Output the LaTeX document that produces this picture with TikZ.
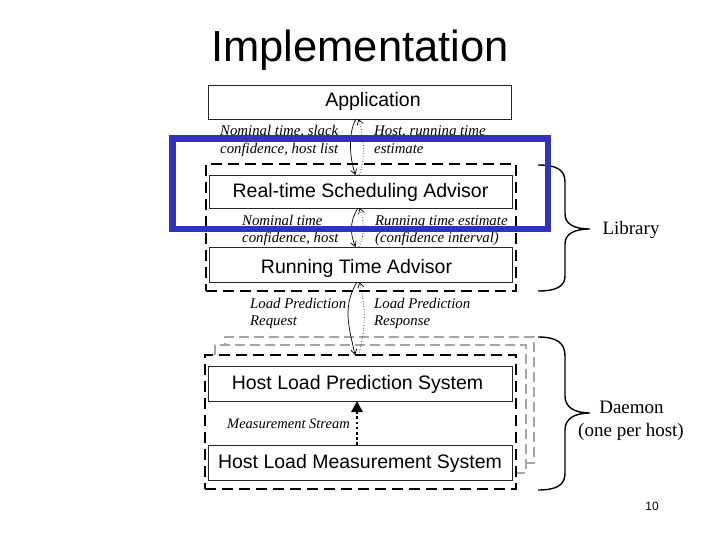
\documentclass[tikz,border=0pt]{standalone}
\usepackage{fontspec}
\setmainfont{Liberation Serif}
\setsansfont{Liberation Sans}
\usetikzlibrary{arrows.meta}
\definecolor{hiblue}{RGB}{50,50,190}
\begin{document}
\begin{tikzpicture}[x=1pt,y=-1pt,
  box/.style={draw=black!85,line width=0.8pt,inner sep=0pt,outer sep=0pt},
  boxtxt/.style={font=\sffamily\fontsize{19.5}{22}\selectfont,anchor=base,inner sep=0pt},
  lbl/.style={font=\itshape\fontsize{14.8}{16}\selectfont,anchor=base west,inner sep=0pt},
  brtxt/.style={font=\fontsize{19}{22}\selectfont,anchor=base,inner sep=0pt},
  blkdash/.style={draw=black,fill=white,dash pattern=on 11pt off 6pt,line width=2.4pt,inner sep=0pt,outer sep=0pt},
  grydash/.style={draw=black!35,fill=white,dash pattern=on 10pt off 5pt,line width=1.8pt,inner sep=0pt,outer sep=0pt},
  req/.style={-{Straight Barb[length=5pt,width=6pt]},line width=0.7pt},
  rsp/.style={-{Straight Barb[length=5pt,width=6pt]},dotted,line width=0.7pt},
  brace/.style={line width=1.4pt},
  hl/.style={draw=hiblue,line width=6.5pt,inner sep=0pt,outer sep=0pt}]
\useasboundingbox (0,0) rectangle (720,540);

% title
\node[font=\sffamily\fontsize{43.5}{48}\selectfont,anchor=base,inner sep=0pt] (title) at (360,62) {Implementation};

% application
\node[box,minimum width=303pt,minimum height=34pt] (app) at (359.5,102) {};
\node[boxtxt] (apptxt) at (373,107) {Application};

% library
\node[blkdash,minimum width=310pt,minimum height=127pt] (lib) at (361,227.5) {};
\node[box,minimum width=303pt,minimum height=33pt] (rtsa) at (360.5,191.5) {};
\node[boxtxt] (rtsatxt) at (360.5,197) {Real-time Scheduling Advisor};
\node[box,minimum width=303pt,minimum height=35pt] (rta) at (360.5,264.5) {};
\node[boxtxt] (rtatxt) at (356.5,273) {Running Time Advisor};

% daemon stack
\node[grydash,minimum width=309pt,minimum height=126pt] (dback) at (379.5,400) {};
\node[grydash,minimum width=311pt,minimum height=128pt] (dmid) at (370.5,409) {};
\node[blkdash,minimum width=311pt,minimum height=134pt] (dfront) at (360.5,422) {};
\node[box,minimum width=304pt,minimum height=35pt] (hlps) at (360,383.5) {};
\node[boxtxt] (hlpstxt) at (357.5,389) {Host Load Prediction System};
\node[box,minimum width=304pt,minimum height=35pt] (hlms) at (360,462.5) {};
\node[boxtxt] (hlmstxt) at (360,468) {Host Load Measurement System};

% gap labels
\node[lbl] (l1a) at (220,136) {Nominal time, slack};
\node[lbl] (l1b) at (220,154) {confidence, host list};
\node[lbl] (r1a) at (374,136) {Host, running time};
\node[lbl] (r1b) at (374,154) {estimate};
\node[lbl] (l2a) at (242,225.5) {Nominal time};
\node[lbl] (l2b) at (242,242) {confidence, host};
\node[lbl] (r2a) at (375,225.5) {Running time estimate};
\node[lbl] (r2b) at (375,242) {(confidence interval)};
\node[lbl] (l3a) at (250,308) {Load Prediction};
\node[lbl] (l3b) at (250,325) {Request};
\node[lbl] (r3a) at (374,308) {Load Prediction};
\node[lbl] (r3b) at (374,325) {Response};
\node[lbl,font=\itshape\fontsize{14.5}{16}\selectfont] (ms) at (227,428) {Measurement Stream};

% request / response arrows
\draw[req] ([xshift=-3.5pt]app.south) .. controls +(-9,16) and +(-5,-14) .. ([xshift=-5pt]rtsa.north);
\draw[rsp] ([xshift=-1.5pt]rtsa.north) .. controls +(7,-14) and +(5,16) .. ([xshift=-1pt]app.south);
\draw[req] ([xshift=-2.5pt]rtsa.south) .. controls +(-9,14) and +(-5,-12) .. ([xshift=-5pt]rta.north);
\draw[rsp] ([xshift=-1.5pt]rta.north) .. controls +(6,-12) and +(5,14) .. ([xshift=-1pt]rtsa.south);
\draw[req] ([xshift=-3.5pt]rta.south) .. controls +(-15,25) and +(-6,-28) .. ([xshift=-5.5pt]dfront.north);
\draw[rsp] ([xshift=-2pt]dfront.north) .. controls +(8,-28) and +(6,25) .. ([xshift=-1pt]rta.south);
\draw[line width=2.8pt,dash pattern=on 2.6pt off 2.6pt,-{Triangle[length=11pt,width=11pt]}] ([xshift=-3pt]hlms.north) -- ([xshift=-3pt]hlps.south);

% braces
\draw[brace] (538,165) .. controls (557,165) and (565,170) .. (565,182) -- (565,214)
  .. controls (565,224) and (574,229) .. (590,229)
  .. controls (574,229) and (565,234) .. (565,244) -- (565,276)
  .. controls (565,286) and (557,291) .. (538,291);
\draw[brace] (538,337) .. controls (557,337) and (565,343) .. (565,356) -- (565,396)
  .. controls (565,407) and (574,413) .. (590,413)
  .. controls (574,413) and (565,419) .. (565,430) -- (565,473)
  .. controls (565,485) and (557,490) .. (538,490);
\node[brtxt] (libtxt) at (631,235) {Library};
\node[brtxt] (dtxt1) at (631.5,413) {Daemon};
\node[brtxt] (dtxt2) at (631,436) {(one per host)};

% page number
\node[font=\sffamily\fontsize{12}{14}\selectfont,anchor=base,inner sep=0pt] (pg) at (652,510) {10};

% highlight
\node[hl,minimum width=375.5pt,minimum height=90.3pt] (hlrect) at (360.25,183.85) {};
\end{tikzpicture}
\end{document}
